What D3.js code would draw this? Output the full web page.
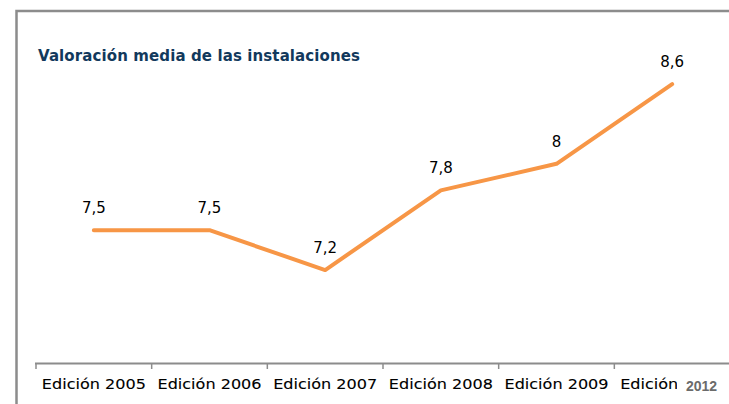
<!DOCTYPE html>
<html lang="es"><head>
<meta charset="utf-8">
<title>Valoración media</title>
<script src="https://cdn.jsdelivr.net/npm/d3@7"></script>
<style>
  body { margin: 0; background: #fff; }
  text { font-family: "DejaVu Sans", Verdana, sans-serif; }
</style>
</head>
<body>
<script type="text/javascript">

var width = 729;
var height = 404;

var categories = ["Edición 2005", "Edición 2006", "Edición 2007", "Edición 2008", "Edición 2009", "Edición 2010"];
var values = [7.5, 7.5, 7.2, 7.8, 8, 8.6];
var valueLabels = ["7,5", "7,5", "7,2", "7,8", "8", "8,6"];
var title = "Valoración media de las instalaciones";

var svg = d3.select("body").append("svg")
            .attr("width", width)
            .attr("height", height);

// clip for the cut-off last category label (absolute coords)
svg.append("defs").append("clipPath")
    .attr("id", "cut")
    .append("rect")
    .attr("x", 0).attr("y", -20)
    .attr("width", 677).attr("height", 60);

// frame (left and top border)
svg.append("path")
    .attr("d", "M16.5,404 V11 H729")
    .attr("fill", "none")
    .attr("stroke", "#8c8c8c")
    .attr("stroke-width", 2.5);

var x = d3.scaleBand()
            .domain(categories)
            .range([36, 730]);

var y = d3.scaleLinear()
            .domain([6.5, 9])
            .range([363, 31]);

svg.append("text")
    .attr("x", 38)
    .attr("y", 61)
    .attr("fill", "#12395c")
    .attr("font-size", 15)
    .attr("font-weight", "bold")
    .attr("textLength", 322)
    .text(title);

// baseline
svg.append("line")
    .attr("x1", 35).attr("x2", 730)
    .attr("y1", 363.5).attr("y2", 363.5)
    .attr("stroke", "#8c8c8c")
    .attr("stroke-width", 2);

var axis = svg.append("g")
    .attr("transform", "translate(0,363.5)")
    .attr("clip-path", "url(#cut)")
    .call(d3.axisBottom(x).tickSize(0).tickPadding(16));

axis.select(".domain").remove();
axis.selectAll(".tick text")
    .attr("font-size", 14)
    .attr("fill", "#000")
    .attr("stroke", "#000")
    .attr("stroke-width", 0.1)
    .attr("textLength", 104)
    .attr("lengthAdjust", "spacingAndGlyphs")
    .style("font-family", "DejaVu Sans, Verdana, sans-serif");

// tick marks at band edges
svg.selectAll("line.edge")
    .data(categories)
    .enter()
    .append("line")
    .attr("class", "edge")
    .attr("x1", function(d){ return x(d); })
    .attr("x2", function(d){ return x(d); })
    .attr("y1", 363)
    .attr("y2", 369)
    .attr("stroke", "#8c8c8c")
    .attr("stroke-width", 1.5);

var line = d3.line()
    .x(function(d, i){ return x(categories[i]) + x.bandwidth()/2; })
    .y(function(d){ return y(d); });

svg.append("path")
    .datum(values)
    .attr("d", line)
    .attr("fill", "none")
    .attr("stroke", "#f79646")
    .attr("stroke-width", 4)
    .attr("stroke-linecap", "round")
    .attr("stroke-linejoin", "round");

svg.selectAll("text.val")
    .data(values)
    .enter()
    .append("text")
    .attr("class", "val")
    .attr("x", function(d, i){ return x(categories[i]) + x.bandwidth()/2; })
    .attr("y", function(d){ return y(d) - 17; })
    .attr("text-anchor", "middle")
    .attr("font-size", 15)
    .attr("fill", "#000")
    .text(function(d, i){ return valueLabels[i]; });

svg.append("text")
    .attr("x", 686)
    .attr("y", 391)
    .attr("font-size", 14)
    .attr("font-weight", "bold")
    .attr("fill", "#6b6b6b")
    .style("font-family", "Liberation Sans, Arial, sans-serif")
    .text("2012");

</script>
</body></html>
